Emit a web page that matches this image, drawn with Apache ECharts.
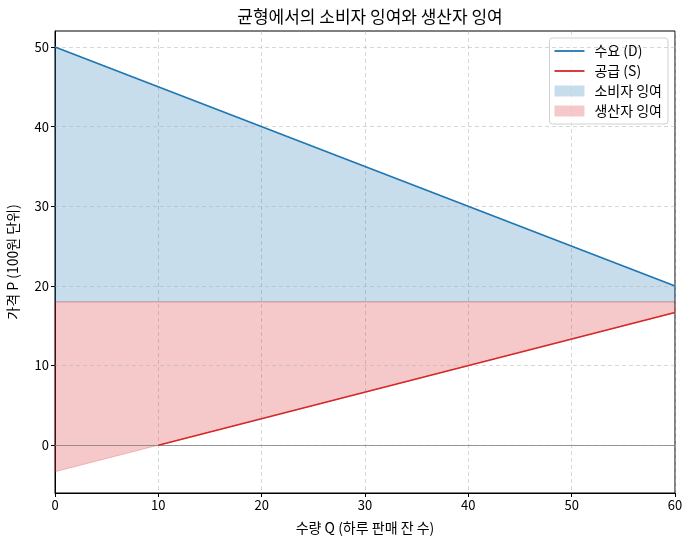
<!DOCTYPE html>
<html>
<head>
<meta charset="utf-8">
<script src="https://cdn.jsdelivr.net/npm/echarts@6/dist/echarts.min.js"></script>
<style>
    html, body { margin: 0; padding: 0; background: #fff; }
    #main { width: 692px; height: 545px; }
</style>
</head>
<body>
<div id="main"></div>
<script>
// 수량 Q 구간
var qPoints = [0, 60];
// 수요 곡선 P = 50 - 0.5Q
var demandQ = [0, 60];
var demandP = [50, 20];
// 공급 곡선 P = (Q - 10) / 3, Q >= 10 부분만 그림
var supplyQ = [10, 60];
var supplyP = [0, 16.67];
// 생산자 잉여 하단 (공급선 연장, Q = 0 ~ 60)
var supplyExtP = [-3.33, 16.67];
// 균형 가격
var eqPrice = 18;

var yTicks = [0, 10, 20, 30, 40, 50];

var FONT = '"Noto Sans CJK KR", "Noto Sans", sans-serif';
var gridColor = 'rgba(176,176,176,0.5)';
var csColor = 'rgba(31,119,180,0.25)';
var psColor = 'rgba(214,39,40,0.25)';

var myChart = echarts.init(document.getElementById('main'));

function pairs(xs, ys) {
    return xs.map(function (x, i) { return [x, ys[i]]; });
}

// 두 곡선 사이 영역을 다각형으로 (위쪽 점들 + 아래쪽 점들 역순)
function bandRender(upper, lower, color) {
    return function (params, api) {
        var pts = [];
        upper.forEach(function (p) { pts.push(api.coord(p)); });
        lower.slice().reverse().forEach(function (p) { pts.push(api.coord(p)); });
        return {
            type: 'polygon',
            shape: { points: pts },
            style: { fill: color, stroke: color, lineWidth: 1 }
        };
    };
}

option = {
    animation: false,
    textStyle: { fontFamily: FONT },
    title: {
        text: '균형에서의 소비자 잉여와 생산자 잉여',
        left: 365,
        textAlign: 'center',
        top: 3,
        textStyle: { fontFamily: FONT, fontSize: 17, fontWeight: 'normal', color: '#000' }
    },
    grid: {
        left: 55,
        right: 17,
        top: 31,
        bottom: 52,
        containLabel: false,
        outerBoundsMode: 'none',
        show: true,
        borderColor: '#000',
        borderWidth: 1,
        backgroundColor: 'transparent'
    },
    legend: {
        right: 24,
        top: 38,
        orient: 'vertical',
        itemGap: 6,
        itemWidth: 30,
        itemHeight: 11,
        padding: [6, 6, 6, 5],
        borderColor: '#d0d0d0',
        borderWidth: 1,
        borderRadius: 3,
        backgroundColor: 'rgba(255,255,255,0.8)',
        textStyle: { fontFamily: FONT, fontSize: 14, color: '#000', padding: [0, 0, 0, 5] },
        data: [
            { name: '수요 (D)', icon: 'path://M0,4.6 L30,4.6 L30,6.4 L0,6.4 Z' },
            { name: '공급 (S)', icon: 'path://M0,4.6 L30,4.6 L30,6.4 L0,6.4 Z' },
            { name: '소비자 잉여', icon: 'rect' },
            { name: '생산자 잉여', icon: 'rect' }
        ]
    },
    xAxis: {
        type: 'value',
        min: 0,
        max: 60,
        interval: 10,
        name: '수량 Q (하루 판매 잔 수)',
        nameLocation: 'middle',
        nameGap: 28,
        nameTextStyle: { fontFamily: FONT, fontSize: 14, color: '#000' },
        axisLine: { onZero: false, lineStyle: { color: '#000', width: 1 } },
        axisTick: { show: true, length: 4, lineStyle: { color: '#000' } },
        axisLabel: { fontFamily: FONT, fontSize: 13, color: '#000', margin: 6 },
        splitLine: { show: true, lineStyle: { color: gridColor, type: [4, 3] } }
    },
    yAxis: {
        type: 'value',
        min: -6,
        max: 52,
        name: '가격 P (100원 단위)',
        nameLocation: 'middle',
        nameGap: 35,
        nameTextStyle: { fontFamily: FONT, fontSize: 14, color: '#000' },
        axisLine: { onZero: false, lineStyle: { color: '#000', width: 1 } },
        axisTick: { show: true, length: 4, lineStyle: { color: '#000' }, customValues: yTicks },
        axisLabel: { fontFamily: FONT, fontSize: 13, color: '#000', margin: 6, customValues: yTicks },
        splitLine: { show: false }
    },
    series: [
        {
            name: '소비자 잉여',
            type: 'custom',
            data: [[0, eqPrice]],
            itemStyle: { color: csColor },
            renderItem: bandRender(pairs(demandQ, demandP), pairs(qPoints, [eqPrice, eqPrice]), csColor),
            silent: true,
            z: 1
        },
        {
            name: '생산자 잉여',
            type: 'custom',
            data: [[0, eqPrice]],
            itemStyle: { color: psColor },
            renderItem: bandRender(pairs(qPoints, [eqPrice, eqPrice]), pairs(qPoints, supplyExtP), psColor),
            silent: true,
            z: 1
        },
        // 수평 그리드 및 P=0 기준선
        {
            name: 'guides',
            type: 'line',
            data: [],
            silent: true,
            markLine: {
                silent: true,
                symbol: 'none',
                label: { show: false },
                animation: false,
                data: yTicks.map(function (v) {
                    return { yAxis: v, lineStyle: { color: gridColor, type: [4, 3], width: 1 } };
                }).concat([{ yAxis: 0, lineStyle: { color: '#808080', type: 'solid', width: 0.8 } }])
            },
            z: 2
        },
        {
            name: '수요 (D)',
            type: 'line',
            data: pairs(demandQ, demandP),
            symbol: 'none',
            itemStyle: { color: '#1f77b4' },
            lineStyle: { color: '#1f77b4', width: 1.6 },
            z: 5
        },
        {
            name: '공급 (S)',
            type: 'line',
            data: pairs(supplyQ, supplyP),
            symbol: 'none',
            itemStyle: { color: '#d62728' },
            lineStyle: { color: '#d62728', width: 1.6 },
            z: 5
        }
    ]
};
myChart.setOption(option);
</script>
</body>
</html>
